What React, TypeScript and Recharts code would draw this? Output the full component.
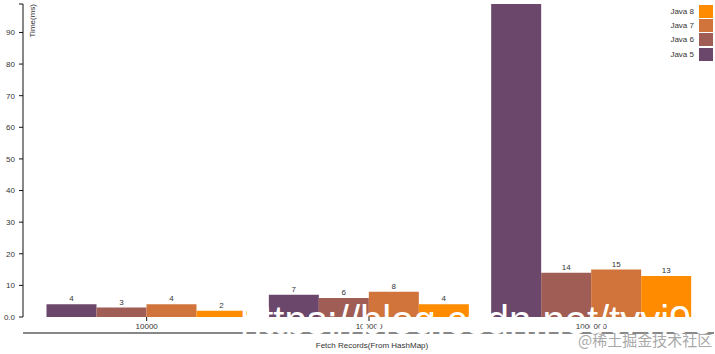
import { Bar, BarChart, LabelList, Legend, XAxis, YAxis } from 'recharts';

// fetch records from a HashMap, time in ms per Java version
const categories = ['10000', '100000', '1000000'];
const java5 = [4, 7, 99];
const java6 = [3, 6, 14];
const java7 = [4, 8, 15];
const java8 = [2, 4, 13];
const yTicks = [0, 10, 20, 30, 40, 50, 60, 70, 80, 90, 99];

const series = [
    { key: 'java5', name: 'Java 5', color: '#6b486b' },
    { key: 'java6', name: 'Java 6', color: '#a05d56' },
    { key: 'java7', name: 'Java 7', color: '#d0743c' },
    { key: 'java8', name: 'Java 8', color: '#ff8c00' },
];

const data = categories.map((records, i) => ({
    records,
    java5: java5[i],
    java6: java6[i],
    java7: java7[i],
    java8: java8[i],
}));

const textColor = '#333';
const axisColor = '#111';

function renderYLabel({ viewBox }: any) {
    const { x, y, width } = viewBox;
    return (
        <text
            transform={`translate(${x + width + 6},${y}) rotate(-90)`}
            textAnchor="end"
            dy="0.71em"
            fontSize={8}
            fill={textColor}
        >
            Time(ms)
        </text>
    );
}

// value above each bar; the tallest one runs off the top like the original
function renderValue({ x, y, width, value }: any) {
    if (y < 12) return null;
    return (
        <text
            x={x + width / 2}
            y={y - 3}
            textAnchor="middle"
            fontSize={8}
            fill={textColor}
        >
            {value}
        </text>
    );
}

function renderLegend({ payload }: any) {
    const items = [...(payload ?? [])].reverse();
    return (
        <div
            style={{
                display: 'flex',
                flexDirection: 'column',
                alignItems: 'flex-end',
                paddingTop: 4,
            }}
        >
            {items.map((entry: any) => (
                <div
                    key={entry.value}
                    style={{ display: 'flex', alignItems: 'center', height: 14.3 }}
                >
                    <span style={{ fontSize: 8, color: textColor, marginRight: 5 }}>
                        {entry.value}
                    </span>
                    <span
                        style={{
                            width: 14,
                            height: 13,
                            background: entry.color,
                        }}
                    />
                </div>
            ))}
        </div>
    );
}

export default function App() {
    return (
        <div
            style={{
                position: 'absolute',
                top: 0,
                left: 0,
                width: 715,
                height: 354,
                background: '#fff',
                fontFamily: '"Liberation Sans", Arial, sans-serif',
                overflow: 'hidden',
            }}
        >
            <BarChart
                width={715}
                height={354}
                data={data}
                margin={{ top: 4, right: 1, bottom: 1, left: 0 }}
                barGap={0}
                barSize={50}
            >
                <XAxis
                    dataKey="records"
                    padding={{ left: 12.5, right: 11.5 }}
                    height={16}
                    tickSize={4}
                    tickMargin={2}
                    axisLine={false}
                    tickLine={{ stroke: axisColor }}
                    tick={{ fontSize: 8, fill: textColor }}
                />
                <XAxis
                    xAxisId="line"
                    dataKey="records"
                    height={20}
                    tick={false}
                    tickLine={false}
                    axisLine={{ stroke: axisColor }}
                    label={{
                        value: 'Fetch Records(From HashMap)',
                        position: 'insideBottom',
                        offset: 5,
                        dx: 3.5,
                        fontSize: 8,
                        fill: textColor,
                    }}
                />
                <YAxis
                    width={23}
                    domain={[0, 99]}
                    ticks={yTicks}
                    interval={0}
                    tickSize={4}
                    tickMargin={4}
                    axisLine={{ stroke: axisColor }}
                    tickLine={{ stroke: axisColor }}
                    tick={{ fontSize: 8, fill: textColor }}
                    tickFormatter={(v: number) =>
                        v === 0 ? '0.0' : v === 99 ? '' : String(v)
                    }
                    label={{ content: renderYLabel }}
                />
                <Legend
                    layout="vertical"
                    align="center"
                    verticalAlign="middle"
                    content={renderLegend}
                    wrapperStyle={{
                        top: 0,
                        left: 'auto',
                        right: 2,
                        width: 120,
                        height: 'auto',
                    }}
                />
                {series.map((s) => (
                    <Bar
                        key={s.key}
                        dataKey={s.key}
                        name={s.name}
                        fill={s.color}
                        isAnimationActive={false}
                    >
                        <LabelList dataKey={s.key} content={renderValue} />
                    </Bar>
                ))}
            </BarChart>
            <div
                style={{
                    position: 'absolute',
                    left: 240,
                    top: 300,
                    fontSize: 40,
                    lineHeight: '40px',
                    color: '#fff',
                    whiteSpace: 'nowrap',
                    pointerEvents: 'none',
                }}
            >
                https://blog.csdn.net/tyyj90
            </div>
            <div
                style={{
                    position: 'absolute',
                    left: 578,
                    top: 332,
                    fontSize: 15,
                    lineHeight: '15px',
                    color: '#a8a8a8',
                    fontFamily: '"Noto Sans CJK SC", sans-serif',
                    whiteSpace: 'nowrap',
                    pointerEvents: 'none',
                }}
            >
                @稀土掘金技术社区
            </div>
        </div>
    );
}
